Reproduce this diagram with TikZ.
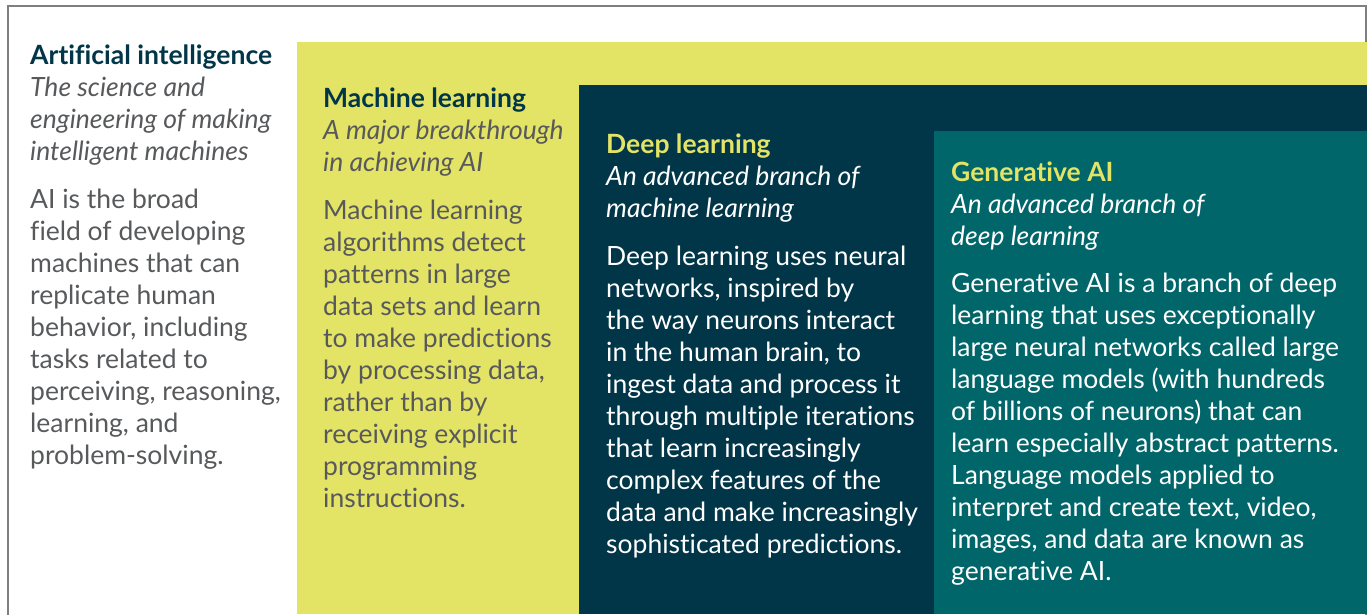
\documentclass[tikz,border=0pt]{standalone}
\usepackage{fontspec}
\setmainfont{Lato}[Ligatures=NoCommon]
\usetikzlibrary{positioning}

\definecolor{aiyellow}{HTML}{E3E366}
\definecolor{ainavy}{HTML}{003648}
\definecolor{aiteal}{HTML}{00666A}
\definecolor{aigray}{HTML}{58595B}
\definecolor{aiframe}{HTML}{7F7F7F}

% base anchor of a multi-line node sits on its last line
\tikzset{
	txt/.style={inner sep=0pt, anchor=base west, align=left,
		font=\fontsize{26.5}{32}\selectfont},
	head/.style={txt, font=\fontsize{26.5}{32}\selectfont\bfseries},
	sub/.style={txt, font=\fontsize{26.5}{32}\selectfont\itshape},
	onlight/.style={text=aigray},
	ondark/.style={text=white}
}

\begin{document}
\begin{tikzpicture}[x=1pt, y=-1pt]
	\useasboundingbox (0,0) rectangle (1370,614);
	% frame and nested fields
	\draw[aiframe, line width=1.3pt] (8,620) -- (8,6) -- (1366,6) -- (1366,620);
	\fill[aiyellow] (297,42) rectangle (1367,614);
	\fill[ainavy] (579,85) rectangle (1367,614);
	\fill[aiteal] (934,131) rectangle (1367,614);

	% artificial intelligence
	\node[head, text=ainavy] (ai-head) at (30,64) {Artificial intelligence};
	\node[sub, onlight] (ai-sub) at ([yshift=-96pt]ai-head.base west)
		{The science and\\engineering of making\\intelligent machines};
	\node[txt, onlight] (ai-body) at ([yshift=-304pt]ai-sub.base west)
		{AI is the broad\\field of developing\\machines that can\\replicate human\\behavior, including\\tasks related to\\perceiving, reasoning,\\learning, and\\problem-solving.};

	% machine learning
	\node[head, text=ainavy] (ml-head) at (323,107) {Machine learning};
	\node[sub, onlight] (ml-sub) at ([yshift=-64pt]ml-head.base west)
		{A major breakthrough\\in achieving AI};
	\node[txt, onlight] (ml-body) at ([yshift=-336pt]ml-sub.base west)
		{Machine learning\\algorithms detect\\patterns in large\\data sets and learn\\to make predictions\\by processing data,\\rather than by\\receiving explicit\\programming\\instructions.};

	% deep learning
	\node[head, text=aiyellow] (dl-head) at (606,153) {Deep learning};
	\node[sub, ondark] (dl-sub) at ([yshift=-64pt]dl-head.base west)
		{An advanced branch of\\machine learning};
	\node[txt, ondark] (dl-body) at ([yshift=-336pt]dl-sub.base west)
		{Deep learning uses neural\\networks, inspired by\\the way neurons interact\\in the human brain, to\\ingest data and process it\\through multiple iterations\\that learn increasingly\\complex features of the\\data and make increasingly\\sophisticated predictions.};

	% generative ai
	\node[head, text=aiyellow] (gen-head) at (951,181) {Generative AI};
	\node[sub, ondark] (gen-sub) at ([yshift=-64pt]gen-head.base west)
		{An advanced branch of\\deep learning};
	\node[txt, ondark] (gen-body) at ([yshift=-335pt]gen-sub.base west)
		{Generative AI is a branch of deep\\learning that uses exceptionally\\large neural networks called large\\language models (with hundreds\\of billions of neurons) that can\\learn especially abstract patterns.\\Language models applied to\\interpret and create text, video,\\images, and data are known as\\generative AI.};
\end{tikzpicture}
\end{document}
